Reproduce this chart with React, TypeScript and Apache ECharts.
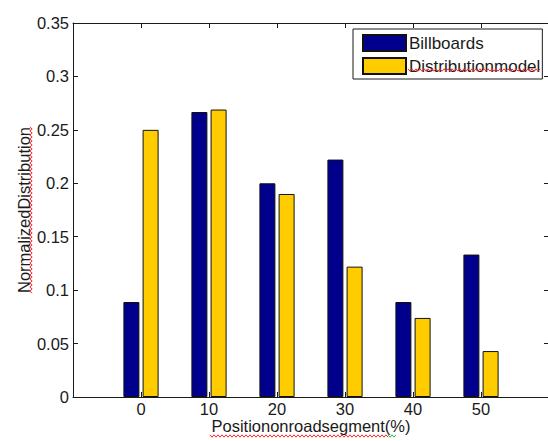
import React, { useEffect, useRef } from "react";
import * as echarts from "echarts";

// Position on road segment (%), one group of bars per position
const positions = [0, 10, 20, 30, 40, 50];
// Observed billboard share at each position
const billboards = [0.0889, 0.2667, 0.2, 0.2222, 0.0889, 0.1333];
// Share predicted by the distribution model
const distributionModel = [0.25, 0.269, 0.19, 0.122, 0.074, 0.043];

const seriesNames = ["Billboards", "Distributionmodel"];
const xTitle = "Positiononroadsegment(%)";
const yTitle = "NormalizedDistribution";

const FONT = "'Liberation Sans', Arial, sans-serif";
const INK = "#1a1a1a";
const FS = 16.5;

// Proofing-style wavy underline
function wave(x0: number, y0: number, len: number, horizontal: boolean) {
  const pts: number[][] = [];
  for (let i = 0; i <= len; i += 2) {
    const off = (i / 2) % 2 === 0 ? -1.2 : 1.2;
    pts.push(horizontal ? [x0 + i, y0 + off] : [x0 + off, y0 + i]);
  }
  return pts;
}

export default function App() {
  const ref = useRef<HTMLDivElement>(null);

  useEffect(() => {
    if (!ref.current) return;
    const chart = echarts.init(ref.current, null, { renderer: "svg" });

    const axisLine = { show: true, onZero: false, lineStyle: { color: INK, width: 1 } };
    const tickIn = { show: true, inside: true, length: 5, lineStyle: { color: INK, width: 1 } };

    const squiggle = (points: number[][], color = "#ff2a2a") => ({
      type: "polyline",
      silent: true,
      z: 100,
      shape: { points },
      style: { stroke: color, lineWidth: 1, fill: null },
    });

    chart.setOption({
      animation: false,
      backgroundColor: "#ffffff",
      textStyle: { fontFamily: FONT },
      grid: { left: 73, top: 23, right: -1, bottom: 44, outerBoundsMode: "none", containLabel: false },
      legend: {
        left: 353,
        top: 29,
        orient: "vertical",
        data: seriesNames,
        icon: "rect",
        itemWidth: 43,
        itemHeight: 16,
        itemGap: 5,
        padding: [5, 2, 4, 9],
        borderColor: INK,
        borderWidth: 1,
        backgroundColor: "#ffffff",
        textStyle: { fontFamily: FONT, fontSize: 17, color: INK, lineHeight: 16, padding: [0, 0, 0, -2] },
      },
      xAxis: [
        {
          type: "value",
          position: "bottom",
          min: -10,
          max: 60,
          interval: 10,
          name: xTitle,
          nameLocation: "middle",
          nameGap: 21,
          nameMoveOverlap: false,
          nameTextStyle: { fontFamily: FONT, fontSize: FS, color: INK, lineHeight: 16 },
          axisLine,
          axisTick: tickIn,
          splitLine: { show: false },
          axisLabel: {
            fontFamily: FONT,
            fontSize: FS,
            color: INK,
            lineHeight: 16,
            margin: 4,
            showMinLabel: false,
            showMaxLabel: false,
          },
        },
        {
          type: "value",
          position: "top",
          min: -10,
          max: 60,
          interval: 10,
          axisLine,
          axisTick: tickIn,
          splitLine: { show: false },
          axisLabel: { show: false },
        },
      ],
      yAxis: [
        {
          type: "value",
          position: "left",
          min: 0,
          max: 0.35,
          interval: 0.05,
          name: yTitle,
          nameLocation: "middle",
          nameGap: 41,
          nameMoveOverlap: false,
          nameTextStyle: { fontFamily: FONT, fontSize: FS, color: INK },
          axisLine,
          axisTick: tickIn,
          splitLine: { show: false },
          axisLabel: { fontFamily: FONT, fontSize: FS, color: INK, margin: 4 },
        },
        {
          type: "value",
          position: "right",
          min: 0,
          max: 0.35,
          interval: 0.05,
          axisLine,
          axisTick: tickIn,
          splitLine: { show: false },
          axisLabel: { show: false },
        },
      ],
      series: [
        {
          name: seriesNames[0],
          type: "bar",
          xAxisIndex: 0,
          yAxisIndex: 0,
          barWidth: 16,
          barGap: "20%",
          itemStyle: { color: "#00008c", borderColor: "#111", borderWidth: 1 },
          data: positions.map((p, i) => [p, billboards[i]]),
        },
        {
          name: seriesNames[1],
          type: "bar",
          xAxisIndex: 0,
          yAxisIndex: 0,
          barWidth: 16,
          barGap: "20%",
          itemStyle: { color: "#ffcc00", borderColor: "#111", borderWidth: 1 },
          data: positions.map((p, i) => [p, distributionModel[i]]),
        },
      ],
      graphic: [
        squiggle(wave(408, 70, 132, true)),
        squiggle(wave(210, 436, 178, true)),
        squiggle(wave(388, 436, 8, true), "#3cb043"),
        squiggle(wave(31, 127, 166, false)),
      ],
    });

    return () => chart.dispose();
  }, []);

  return (
    <div
      ref={ref}
      style={{ position: "fixed", left: 0, top: 0, width: 548, height: 441 }}
    />
  );
}
